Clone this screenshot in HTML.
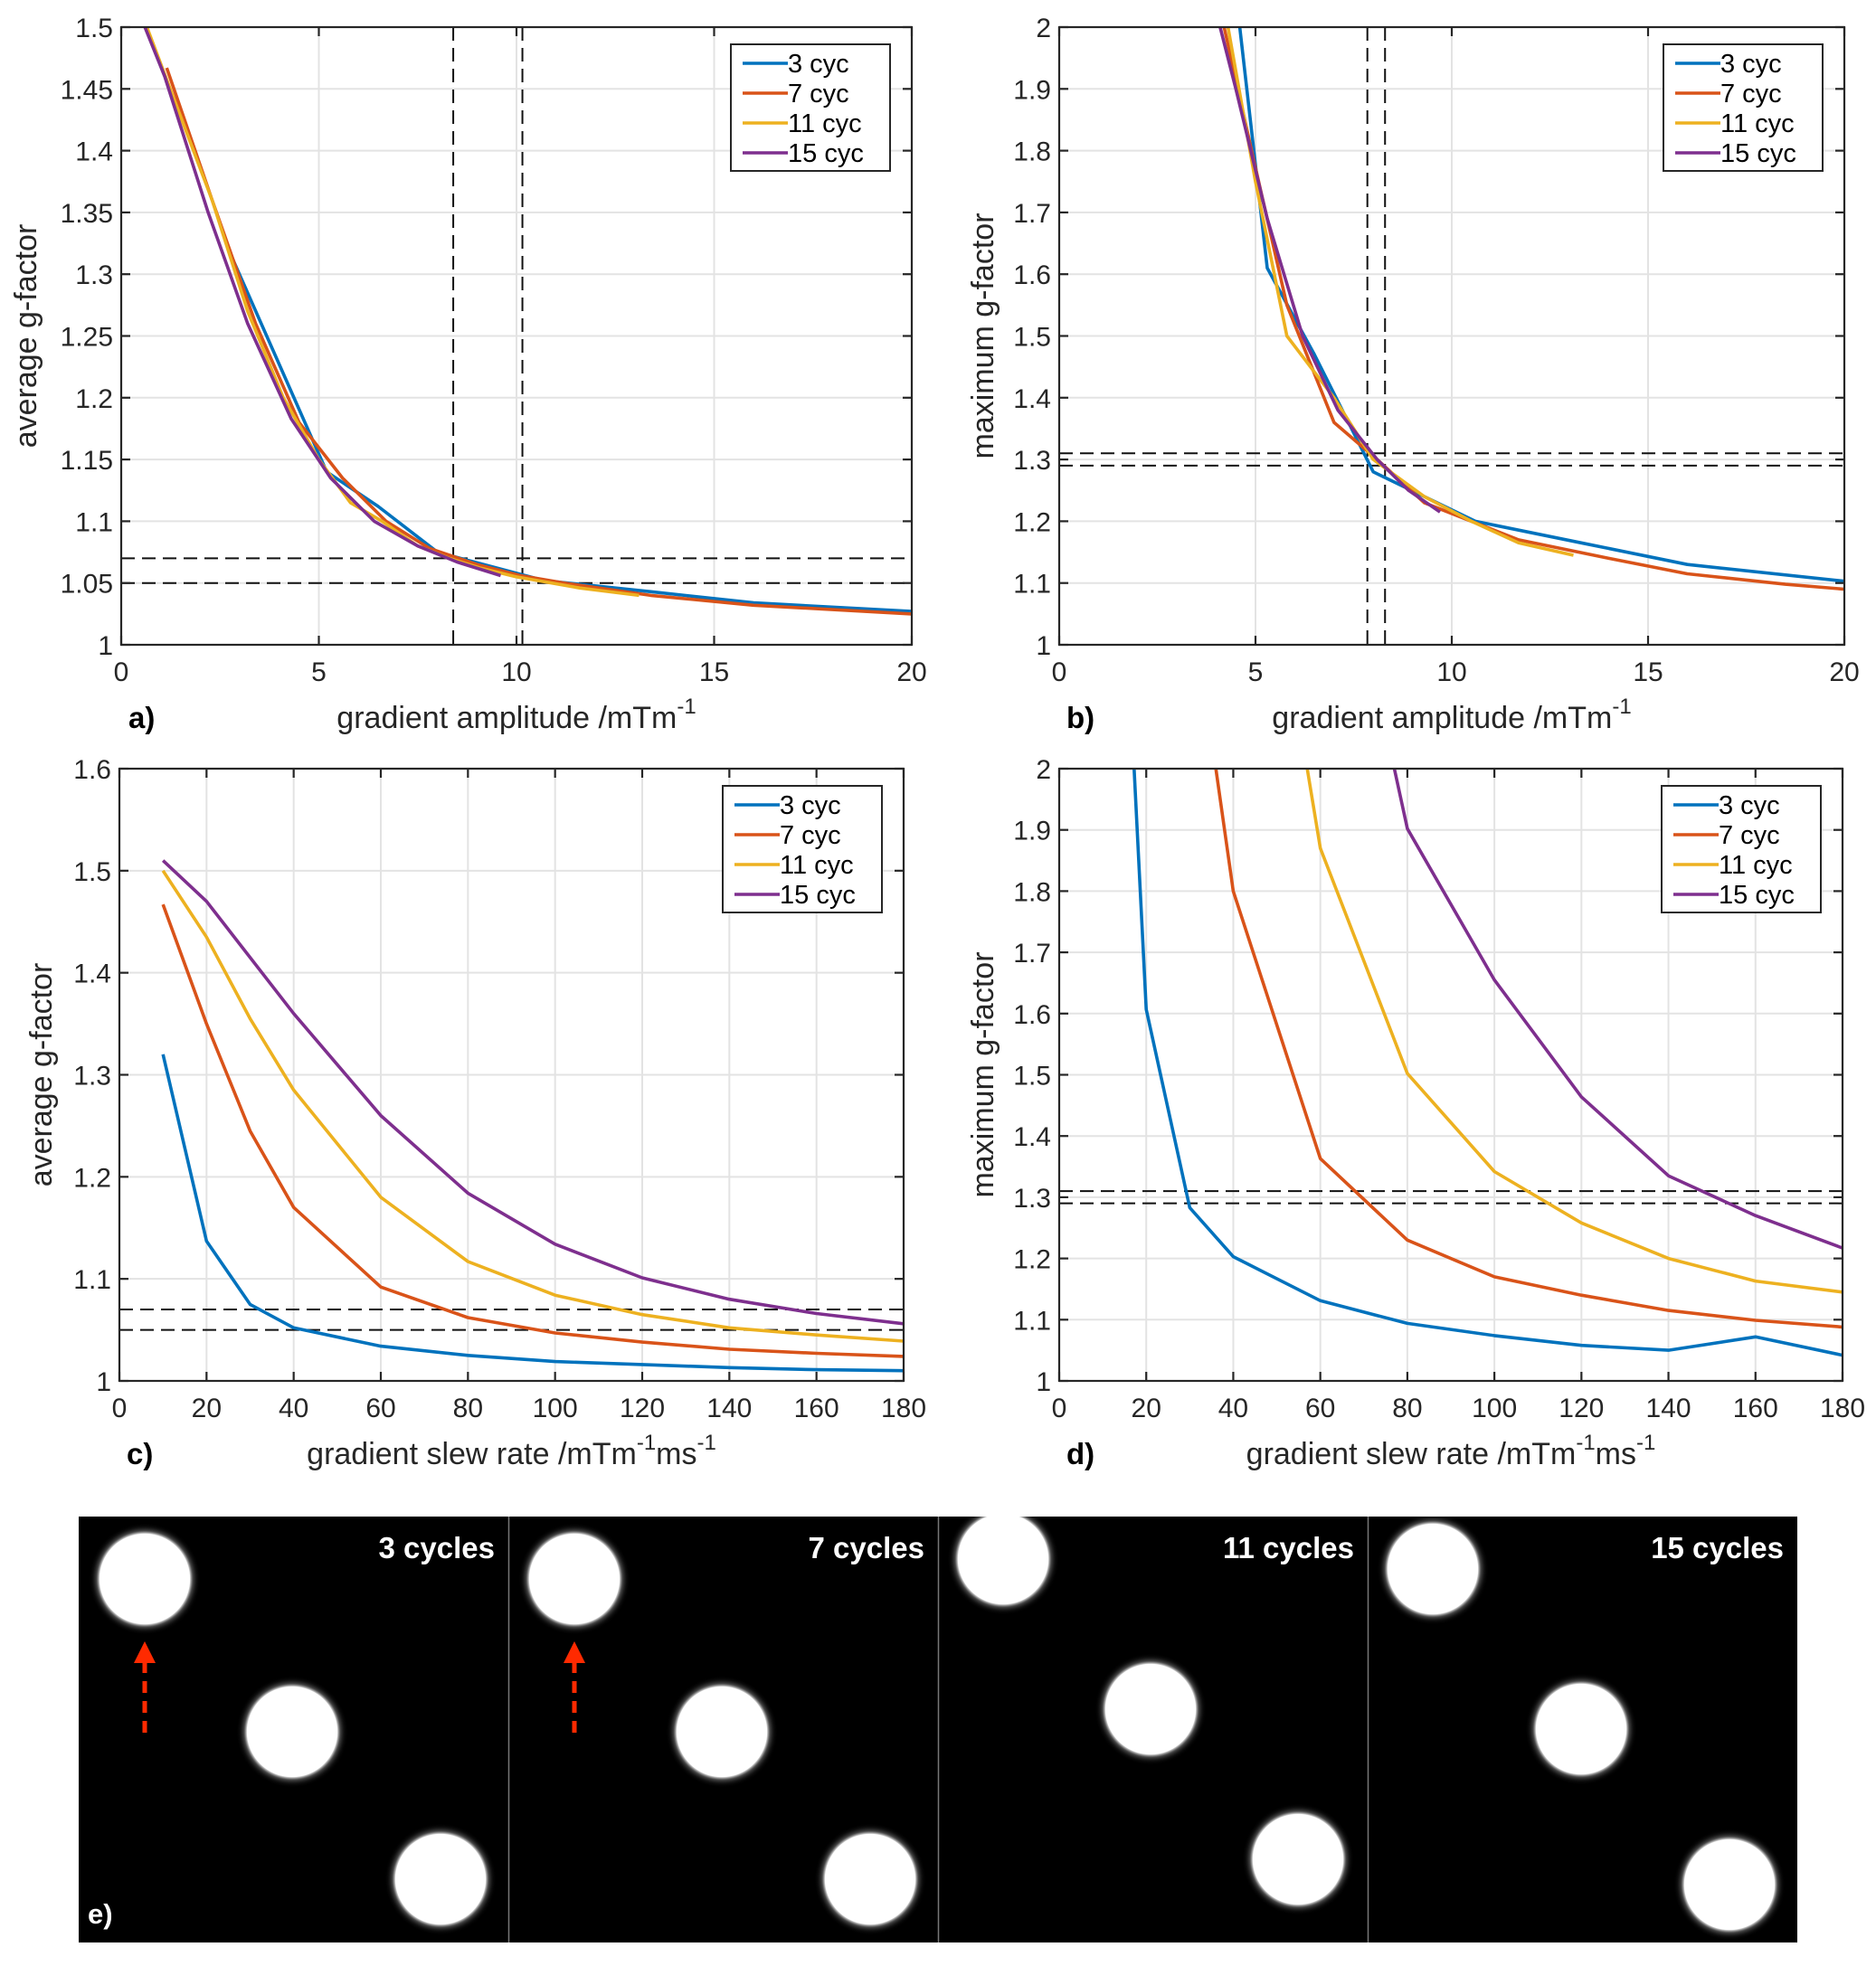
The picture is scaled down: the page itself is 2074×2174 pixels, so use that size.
<!DOCTYPE html>
<html><head><meta charset="utf-8">
<style>
html,body{margin:0;padding:0;background:#fff;}
svg{display:block;font-family:"Liberation Sans",Arial,sans-serif;}
</style></head>
<body>
<svg id="fig" width="2074" height="2174" viewBox="0 0 2074 2174" xmlns="http://www.w3.org/2000/svg">
<defs>
<radialGradient id="halo" cx="0.5" cy="0.5" r="0.5">
<stop offset="0.8" stop-color="#fff" stop-opacity="1"/>
<stop offset="0.86" stop-color="#888" stop-opacity="0.5"/>
<stop offset="0.93" stop-color="#333" stop-opacity="0.25"/>
<stop offset="1" stop-color="#000" stop-opacity="0"/>
</radialGradient>
</defs>
</svg>
<script>
// ---------- data ----------
const seriesNames = ["3 cyc","7 cyc","11 cyc","15 cyc"];
const seriesColors = ["#0072bd","#d95319","#edb120","#7e2f8e"];

// panel a: gradient amplitude vs average g-factor
const aX3 = [2.7,5.2,6.5,8.0,10.7,13.4,16,20];
const aY3 = [1.321,1.14,1.112,1.075,1.052,1.043,1.034,1.027];
const aX7 = [1.15,2.3,3.4,4.5,5.6,6.7,7.8,9.0,10.1,11.2,13.4,16,20];
const aY7 = [1.467,1.36,1.26,1.18,1.135,1.1,1.078,1.065,1.056,1.05,1.04,1.032,1.025];
const aX11 = [0.65,2.3,3.2,4.1,5.0,5.8,6.6,7.5,8.3,9.1,10.0,11.6,13.1];
const aY11 = [1.5,1.36,1.27,1.2,1.15,1.115,1.1,1.08,1.07,1.062,1.055,1.046,1.04];
const aX15 = [0.6,1.1,2.2,3.2,4.3,5.3,6.4,7.5,8.5,9.6];
const aY15 = [1.5,1.46,1.35,1.26,1.183,1.135,1.1,1.08,1.067,1.056];
const aHLines = [1.07,1.05];
const aVLines = [8.4,10.15];

// panel b: gradient amplitude vs maximum g-factor
const bX3 = [4.6,5.3,6.5,8.0,10.6,13.3,16,20];
const bY3 = [2.0,1.61,1.47,1.28,1.2,1.165,1.13,1.103];
const bX7 = [4.2,4.9,5.8,7.0,8.1,9.3,10.5,11.7,14,16,18.5,20];
const bY7 = [2.0,1.8,1.55,1.36,1.3,1.23,1.2,1.17,1.14,1.115,1.098,1.09];
const bX11 = [4.3,5.0,5.8,7.0,8.0,9.3,10.5,11.7,13.1];
const bY11 = [2.0,1.75,1.5,1.4,1.3,1.24,1.2,1.165,1.145];
const bX15 = [4.1,4.5,5.3,6.2,7.1,8.1,8.9,9.7];
const bY15 = [2.0,1.9,1.69,1.5,1.38,1.3,1.25,1.215];
const bHLines = [1.31,1.29];
const bVLines = [7.85,8.3];

// panel c: slew rate vs average g-factor
const cX = [10,20,30,40,60,80,100,120,140,160,180];
const cY3 = [1.32,1.137,1.075,1.052,1.034,1.025,1.019,1.016,1.013,1.011,1.01];
const cY7 = [1.467,1.35,1.245,1.17,1.092,1.062,1.047,1.038,1.031,1.027,1.024];
const cY11 = [1.5,1.435,1.355,1.285,1.18,1.117,1.084,1.065,1.052,1.045,1.039];
const cX15 = [10,20,40,60,80,100,120,140,160,180];
const cY15 = [1.51,1.47,1.36,1.26,1.184,1.134,1.101,1.08,1.066,1.056];
const cHLines = [1.07,1.05];

// panel d: slew rate vs maximum g-factor
const dX3 = [17.2,20,30,40,60,80,100,120,140,160,180];
const dY3 = [2.0,1.607,1.283,1.203,1.131,1.094,1.074,1.058,1.05,1.072,1.042];
const dX7 = [36,40,60,80,100,120,140,160,180];
const dY7 = [2.0,1.8,1.363,1.23,1.17,1.14,1.115,1.099,1.088];
const dX11 = [57,60,80,100,120,140,160,180];
const dY11 = [2.0,1.87,1.502,1.342,1.258,1.2,1.163,1.145];
const dX15 = [77,80,100,120,140,160,180];
const dY15 = [2.0,1.902,1.655,1.464,1.335,1.27,1.217];
const dHLines = [1.31,1.29];

// ticks
const ampTicks = [0,5,10,15,20];
const slewTicks = [0,20,40,60,80,100,120,140,160,180];
const aYTicks = [1,1.05,1.1,1.15,1.2,1.25,1.3,1.35,1.4,1.45,1.5];
const aYLabels = ["1","1.05","1.1","1.15","1.2","1.25","1.3","1.35","1.4","1.45","1.5"];
const maxYTicks = [1,1.1,1.2,1.3,1.4,1.5,1.6,1.7,1.8,1.9,2];
const maxYLabels = ["1","1.1","1.2","1.3","1.4","1.5","1.6","1.7","1.8","1.9","2"];
const cYTicks = [1,1.1,1.2,1.3,1.4,1.5,1.6];
const cYLabels = ["1","1.1","1.2","1.3","1.4","1.5","1.6"];

// ---------- drawing ----------
const NS = "http://www.w3.org/2000/svg";
const svg = document.getElementById("fig");
function mk(tag, attrs, parent){
  const e = document.createElementNS(NS, tag);
  for (const k in attrs) e.setAttribute(k, attrs[k]);
  (parent||svg).appendChild(e);
  return e;
}

function panel(p){
  const g = mk("g", {});
  
  
  const sx = v => p.L + (v - p.xmin)/(p.xmax - p.xmin)*(p.R - p.L);
  const sy = v => p.B - (v - p.ymin)/(p.ymax - p.ymin)*(p.B - p.T);
  mk("rect",{x:p.L,y:p.T,width:p.R-p.L,height:p.B-p.T,fill:"#fff"},g);
  p.xt.forEach(v=>{ mk("line",{x1:sx(v),x2:sx(v),y1:p.T,y2:p.B,stroke:"#e3e3e3","stroke-width":2},g); });
  p.yt.forEach(v=>{ mk("line",{x1:p.L,x2:p.R,y1:sy(v),y2:sy(v),stroke:"#e3e3e3","stroke-width":2},g); });
  p.hl.forEach(v=>{
    const l = mk("line",{x1:p.L,x2:p.R,y1:sy(v),y2:sy(v),stroke:"#111","stroke-width":2,"stroke-dasharray":"15,8"},g);
    
    
  });
  (p.vl||[]).forEach(v=>{
    const l = mk("line",{x1:sx(v),x2:sx(v),y1:p.T,y2:p.B,stroke:"#111","stroke-width":2,"stroke-dasharray":"15,8"},g);
    
    
  });
  const clip = mk("clipPath",{id:"clip-"+p.name},g);
  mk("rect",{x:p.L,y:p.T-2,width:p.R-p.L+2,height:p.B-p.T+4},clip);
  p.series.forEach((s,i)=>{
    const pts = s.x.map((xv,j)=>sx(xv).toFixed(1)+","+sy(s.y[j]).toFixed(1)).join(" ");
    const pl = mk("polyline",{points:pts,fill:"none",stroke:seriesColors[i],"stroke-width":3.6,"stroke-linejoin":"round","clip-path":"url(#clip-"+p.name+")"},g);
    
    
  });
  mk("rect",{x:p.L,y:p.T,width:p.R-p.L,height:p.B-p.T,fill:"none",stroke:"#262626","stroke-width":2.2},g);
  p.xt.forEach((v,i)=>{
    mk("line",{x1:sx(v),x2:sx(v),y1:p.B,y2:p.B-10,stroke:"#262626","stroke-width":2.2},g);
    mk("line",{x1:sx(v),x2:sx(v),y1:p.T,y2:p.T+10,stroke:"#262626","stroke-width":2.2},g);
    const t = mk("text",{x:sx(v),y:p.B+40,"font-size":30,"text-anchor":"middle",fill:"#262626"},g);
    t.textContent = String(v);
    
    
  });
  p.yt.forEach((v,i)=>{
    mk("line",{x1:p.L,x2:p.L+10,y1:sy(v),y2:sy(v),stroke:"#262626","stroke-width":2.2},g);
    mk("line",{x1:p.R,x2:p.R-10,y1:sy(v),y2:sy(v),stroke:"#262626","stroke-width":2.2},g);
    const t = mk("text",{x:p.L-9,y:sy(v)+11,"font-size":30,"text-anchor":"end",fill:"#262626"},g);
    t.textContent = p.yl[i];
    
    
  });
  const yl = mk("text",{x:0,y:0,"font-size":34,"text-anchor":"middle",fill:"#262626",transform:`translate(${p.ylx},${(p.T+p.B)/2}) rotate(-90)`},g);
  yl.textContent = p.ylabel;
  
  
  const xl = mk("text",{x:(p.L+p.R)/2,y:p.B+92,"font-size":34,"text-anchor":"middle",fill:"#262626"},g);
  
  
  p.xlabel.forEach(part=>{
    const ts = mk("tspan",{},xl);
    if(part.sup){ ts.setAttribute("font-size","24"); ts.setAttribute("dy","-16"); }
    else if(part.after){ ts.setAttribute("dy","16"); }
    ts.textContent = part.t;
  });
  const pl = mk("text",{x:p.L+8,y:p.B+92,"font-size":33,"font-weight":"bold",fill:"#000"},g);
  pl.textContent = p.letter;
  
  
  const lg = mk("g",{},g);
  
  
  const lw = 176, lh = 140, lx = p.R - 24 - lw, ly = p.T + 19;
  mk("rect",{x:lx,y:ly,width:lw,height:lh,fill:"#fff",stroke:"#262626","stroke-width":2},lg);
  seriesNames.forEach((n,i)=>{
    const yy = ly + 21 + i*33;
    mk("line",{x1:lx+13,x2:lx+63,y1:yy,y2:yy,stroke:seriesColors[i],"stroke-width":3.6},lg);
    const t = mk("text",{x:lx+63,y:yy+10,"font-size":29,fill:"#000"},lg);
    t.textContent = n;
    
    
  });
}

const ampLabel = [{t:"gradient amplitude /mTm"},{t:"-1",sup:true}];
const slewLabel = [{t:"gradient slew rate /mTm"},{t:"-1",sup:true},{t:"ms",after:true},{t:"-1",sup:true}];

panel({name:"panel-a",letter:"a)",L:134,R:1008,T:30,B:713,xmin:0,xmax:20,ymin:1,ymax:1.5,
  xt:ampTicks,yt:aYTicks,yl:aYLabels,hl:aHLines,vl:aVLines,ylx:40,ylabel:"average g-factor",xlabel:ampLabel,
  series:[{x:aX3,y:aY3},{x:aX7,y:aY7},{x:aX11,y:aY11},{x:aX15,y:aY15}]});
panel({name:"panel-b",letter:"b)",L:1171,R:2039,T:30,B:713,xmin:0,xmax:20,ymin:1,ymax:2,
  xt:ampTicks,yt:maxYTicks,yl:maxYLabels,hl:bHLines,vl:bVLines,ylx:1098,ylabel:"maximum g-factor",xlabel:ampLabel,
  series:[{x:bX3,y:bY3},{x:bX7,y:bY7},{x:bX11,y:bY11},{x:bX15,y:bY15}]});
panel({name:"panel-c",letter:"c)",L:132,R:999,T:850,B:1527,xmin:0,xmax:180,ymin:1,ymax:1.6,
  xt:slewTicks,yt:cYTicks,yl:cYLabels,hl:cHLines,ylx:57,ylabel:"average g-factor",xlabel:slewLabel,
  series:[{x:cX,y:cY3},{x:cX,y:cY7},{x:cX,y:cY11},{x:cX15,y:cY15}]});
panel({name:"panel-d",letter:"d)",L:1171,R:2037,T:850,B:1527,xmin:0,xmax:180,ymin:1,ymax:2,
  xt:slewTicks,yt:maxYTicks,yl:maxYLabels,hl:dHLines,ylx:1098,ylabel:"maximum g-factor",xlabel:slewLabel,
  series:[{x:dX3,y:dY3},{x:dX7,y:dY7},{x:dX11,y:dY11},{x:dX15,y:dY15}]});

// ---------- image strip (e) ----------
const tileLabels = ["3 cycles","7 cycles","11 cycles","15 cycles"];
const circleCx = [[73,236,400],[73,236,400],[72,235,398],[72,236,400]];
const circleCy = [[69,238,401],[69,238,401],[47,213,379],[58,235,407]];
const arrowTiles = [true,true,false,false];
const strip = mk("g",{});


const SX = 87, SY = 1677, TW = 475, TH = 471;
tileLabels.forEach((lab,i)=>{
  const tg = mk("g",{transform:`translate(${SX+i*TW},${SY})`},strip);
  
  
  mk("rect",{x:0,y:0,width:TW,height:TH,fill:"#000"},tg);
  const cpath = mk("clipPath",{id:"tc"+i},tg);
  mk("rect",{x:0,y:0,width:TW,height:TH},cpath);
  circleCx[i].forEach((cx,j)=>{
    mk("circle",{cx:cx,cy:circleCy[i][j],r:62,fill:"url(#halo)","clip-path":`url(#tc${i})`},tg);
    mk("circle",{cx:cx,cy:circleCy[i][j],r:50,fill:"#fff","clip-path":`url(#tc${i})`},tg);
  });
  if(i>0) mk("line",{x1:0.5,x2:0.5,y1:0,y2:TH,stroke:"#777","stroke-width":1.5},tg);
  const t = mk("text",{x:TW-15,y:46,"font-size":33,"font-weight":"bold","text-anchor":"end",fill:"#fff"},tg);
  t.textContent = lab;
  
  
  if(arrowTiles[i]){
    const a = mk("g",{},tg);
    
    
    mk("line",{x1:73,x2:73,y1:160,y2:240,stroke:"#ff2a00","stroke-width":5,"stroke-dasharray":"13,9"},a);
    mk("polygon",{points:"73,138 61,162 85,162",fill:"#ff2a00"},a);
  }
});
const el = mk("text",{x:SX+10,y:SY+450,"font-size":31,"font-weight":"bold",fill:"#fff"},strip);
el.textContent = "e)";


</script>
</body></html>
